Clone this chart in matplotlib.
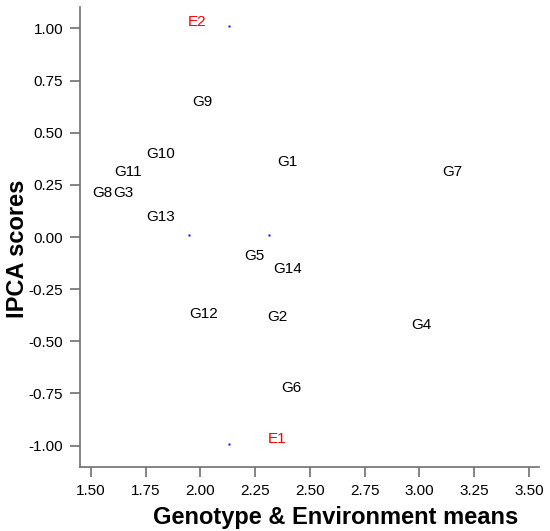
import matplotlib
matplotlib.use("Agg")
import matplotlib.pyplot as plt

plt.rcParams['font.family'] = ['Liberation Sans', 'DejaVu Sans']

# Genotype labels: (mean, IPCA score)
gen_names = ["G1", "G2", "G3", "G4", "G5", "G6", "G7",
             "G8", "G9", "G10", "G11", "G12", "G13", "G14"]
gen_x = [2.395, 2.349, 1.65, 3.011, 2.245, 2.413, 3.148,
         1.553, 2.011, 1.82, 1.668, 2.016, 1.82, 2.40]
gen_y = [0.36, -0.384, 0.211, -0.422, -0.091, -0.724, 0.312,
         0.211, 0.647, 0.398, 0.312, -0.369, 0.096, -0.153]

# Environment labels
env_names = ["E1", "E2"]
env_x = [2.349, 1.984]
env_y = [-0.969, 1.031]

# small blue points
pt_x = [2.13, 1.947, 2.313, 2.13]
pt_y = [1.013, 0.01, 0.01, -0.993]

xticks = [1.50, 1.75, 2.00, 2.25, 2.50, 2.75, 3.00, 3.25, 3.50]
yticks = [-1.00, -0.75, -0.50, -0.25, 0.00, 0.25, 0.50, 0.75, 1.00]

fig = plt.figure(figsize=(5.5, 5.31), dpi=100)
ax = fig.add_axes([0.1455, 0.1205, 0.8345, 0.8663])

ax.plot(pt_x, pt_y, linestyle="none", marker="s", markersize=1.4,
        markeredgewidth=0, color="#0000ff")

for name, x, y in zip(gen_names, gen_x, gen_y):
    ax.text(x, y, name, ha="center", va="center", fontsize=11, color="black")
for name, x, y in zip(env_names, env_x, env_y):
    ax.text(x, y, name, ha="center", va="center", fontsize=11, color="red")

ax.set_xlim(1.45, 3.546)
ax.set_ylim(-1.103, 1.103)
ax.set_xticks(xticks)
ax.set_yticks(yticks)
ax.set_xticklabels([f"{v:.2f}" for v in xticks])
ax.set_yticklabels([f"{v:.2f}" for v in yticks])

for side in ["top", "right"]:
    ax.spines[side].set_visible(False)
for side in ["left", "bottom"]:
    ax.spines[side].set_color("#707070")
    ax.spines[side].set_linewidth(1.2)
ax.tick_params(axis="both", length=7, width=1.2, color="#707070",
               labelsize=11, labelcolor="black", pad=5)

# y label nudged a bit left so it clears the tick labels
ax.set_xlabel("Genotype & Environment means", fontsize=17, fontweight="bold",
              va="center")
ax.set_ylabel("IPCA scores", fontsize=17, fontweight="bold", va="center")
ax.xaxis.set_label_coords((336 - 80) / 459, (467 - 517) / 460)
ax.yaxis.set_label_coords((17 - 80) / 459, (467 - 249) / 460)

fig.savefig("out.png", dpi=100)
